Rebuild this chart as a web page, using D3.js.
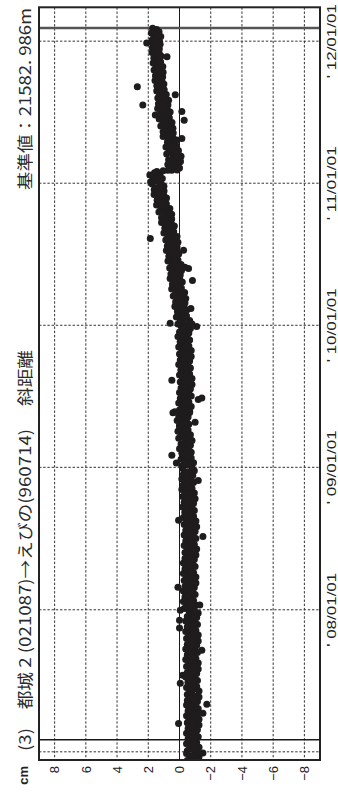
<!DOCTYPE html>
<html>
<head>
<meta charset="utf-8">
<script src="https://cdn.jsdelivr.net/npm/d3@7/dist/d3.min.js"></script>
<style>
  html, body { margin: 0; padding: 0; background: #fff; }
  svg { display: block; }
</style>
</head>
<body>
<svg id="chart" width="338" height="792"></svg>
<script>
// Slope-distance baseline change (cm) for 都城２ → えびの, drawn with time running up the page.

// Tick values and labels
const valueTicks = [8, 6, 4, 2, 0, -2, -4, -6, -8];
const yearTicks = ["2007-01-01", "2008-01-01", "2009-01-01", "2010-01-01", "2011-01-01", "2012-01-01"];
const dateLabelDates = ["2008-01-01", "2009-01-01", "2010-01-01", "2011-01-01", "2012-01-01"];
const dateLabels = ["' 08/01/01", "' 09/01/01", "' 10/01/01", "' 11/01/01", "' 12/01/01"];
const periodMarks = ["2007-02-01", "2012-02-04"];

// Observations every 3 days from each series start date (cm)
const seriesStarts = ["2006-12-07", "2007-01-01", "2008-01-01", "2009-01-01", "2010-01-01", "2011-01-01", "2012-01-01"];
const vals2006 = [-1.15, -0.5, -0.85, -0.65, -1.25, -0.8, -1.0, -0.45, -1.1];
const vals2007 = [
  -1.15, -0.5, -0.85, -0.65, -1.25, -0.8, -1.0, -0.45, -1.1, -0.75, -0.9, -0.55,
  -0.6, -1.2, -0.75, -1.05, -0.45, -0.9, -0.7, -1.15, -0.55, -0.95, -0.8, -1.25,
  -1.1, -0.5, -0.85, -0.6, -1.25, -0.75, -1.0, -0.45, -1.15, -0.7, -0.9, -0.55,
  -0.6, -1.2, -0.7, -1.05, -0.45, -0.95, -0.7, -1.15, -0.5, -0.95, -0.8, -1.25,
  -1.15, -0.5, -0.8, -0.65, -1.25, -0.8, -1.0, -0.45, -1.1, -0.75, -0.9, -0.55,
  -0.55, -1.15, -0.7, -1.0, -0.4, -0.85, -0.65, -1.1, -0.5, -0.9, -0.75, -1.2,
  -1.1, -0.45, -0.8, -0.6, -1.2, -0.75, -0.95, -0.4, -1.05, -0.7, -0.85, -0.5,
  -0.55, -1.15, -0.7, -1.0, -0.4, -0.85, -0.65, -1.1, -0.5, -0.9, -0.75, -1.2,
  -1.1, -0.45, -0.8, -0.6, -1.2, -0.75, -0.95, -0.4, -1.05, -0.7, -0.85, -0.5,
  -0.55, -1.15, -0.7, -1.0, -0.4, -0.85, -0.65, -1.1, -0.5, -0.9, -0.75, -1.2,
  -0.95, -0.6
];
const vals2008 = [
  -0.95, -0.3, -0.65, -0.45, -1.05, -0.6, -0.8, -0.25, -0.9, -0.55, -0.7, -0.35,
  -0.4, -1.0, -0.55, -0.85, -0.25, -0.7, -0.5, -0.95, -0.35, -0.75, -0.6, -1.05,
  -0.95, -0.3, -0.65, -0.45, -1.05, -0.6, -0.8, -0.25, -0.9, -0.55, -0.7, -0.35,
  -0.4, -1.0, -0.55, -0.85, -0.25, -0.7, -0.5, -0.95, -0.35, -0.75, -0.6, -1.05,
  -1.0, -0.35, -0.7, -0.5, -1.1, -0.65, -0.85, -0.3, -0.95, -0.6, -0.75, -0.4,
  -0.45, -1.05, -0.6, -0.9, -0.3, -0.75, -0.55, -1.0, -0.4, -0.8, -0.65, -1.1,
  -0.95, -0.3, -0.65, -0.45, -1.05, -0.6, -0.8, -0.25, -0.9, -0.55, -0.7, -0.35,
  -0.35, -0.95, -0.5, -0.8, -0.2, -0.65, -0.45, -0.9, -0.3, -0.7, -0.55, -1.0,
  -0.85, -0.2, -0.55, -0.35, -0.95, -0.5, -0.7, -0.15, -0.8, -0.45, -0.6, -0.25,
  -0.3, -0.9, -0.45, -0.75, -0.15, -0.6, -0.4, -0.85, -0.25, -0.65, -0.5, -0.95,
  -0.8, -0.2
];
const vals2009 = [
  -0.8, -0.15, -0.5, -0.3, -0.9, -0.45, -0.65, -0.1, -0.75, -0.4, -0.55, -0.2,
  -0.15, -0.75, -0.3, -0.6, 0.0, -0.45, -0.25, -0.7, -0.1, -0.5, -0.35, -0.8,
  -0.6, 0.05, -0.3, -0.1, -0.7, -0.25, -0.45, 0.1, -0.55, -0.2, -0.35, 0.0,
  0.0, -0.6, -0.15, -0.45, 0.15, -0.3, -0.1, -0.55, 0.05, -0.35, -0.2, -0.65,
  -0.65, 0.0, -0.35, -0.15, -0.75, -0.3, -0.5, 0.05, -0.6, -0.25, -0.4, -0.05,
  -0.15, -0.75, -0.3, -0.6, 0.0, -0.45, -0.25, -0.7, -0.1, -0.5, -0.35, -0.8,
  -0.7, -0.05, -0.4, -0.2, -0.8, -0.35, -0.55, 0.0, -0.65, -0.3, -0.45, -0.1,
  -0.1, -0.7, -0.25, -0.55, 0.05, -0.4, -0.2, -0.65, -0.05, -0.45, -0.3, -0.75,
  -0.65, 0.0, -0.35, -0.15, -0.75, -0.3, -0.5, 0.05, -0.6, -0.25, -0.4, -0.05,
  -0.05, -0.65, -0.2, -0.5, 0.1, -0.35, -0.15, -0.6, 0.0, -0.4, -0.25, -0.7,
  -0.55, -0.1
];
const vals2010 = [
  -0.55, 0.1, -0.25, -0.05, -0.65, -0.2, -0.35, 0.2, -0.45, -0.1, -0.25, 0.1,
  0.13, -0.47, -0.02, -0.3, 0.3, -0.15, 0.05, -0.35, 0.25, -0.05, 0.05, -0.4,
  -0.25, 0.4, 0.05, 0.25, -0.33, 0.12, -0.05, 0.5, -0.12, 0.23, 0.1, 0.45,
  0.42, -0.18, 0.28, -0.02, 0.6, 0.17, 0.38, -0.05, 0.55, 0.15, 0.32, -0.13,
  -0.02, 0.63, 0.29, 0.5, -0.1, 0.36, 0.17, 0.74, 0.1, 0.46, 0.32, 0.68,
  0.65, 0.05, 0.52, 0.22, 0.84, 0.4, 0.6, 0.16, 0.78, 0.38, 0.54, 0.1,
  0.22, 0.88, 0.54, 0.75, 0.16, 0.62, 0.44, 1.0, 0.37, 0.73, 0.6, 0.94,
  0.91, 0.33, 0.8, 0.52, 1.15, 0.73, 0.95, 0.5, 1.15, 0.77, 0.94, 0.5,
  0.65, 1.32, 0.98, 1.2, 0.62, 1.08, 0.9, 1.47, 0.84, 1.2, 1.07, 1.43,
  1.41, 0.83, 1.3, 1.0, 1.63, 1.2, 1.42, 0.99, 1.62, 1.24, 1.41, 1.0,
  1.1, 1.75
];
const vals2011 = [
  1.2, 1.85, 1.5, 1.7, 1.1, 1.55, 1.35, 1.9, 1.25, 1.6, 1.45, 0.5,
  0.6, 0.0, 0.45, 0.15, 0.75, 0.3, 0.5, -0.05, 0.7, 0.25, 0.4, -0.1,
  0.17, 0.82, 0.47, 0.67, 0.07, 0.52, 0.32, 0.87, 0.22, 0.57, 0.42, 0.77,
  0.75, 0.18, 0.7, 0.42, 1.05, 0.6, 0.82, 0.4, 1.05, 0.68, 0.85, 0.42,
  0.53, 1.2, 0.85, 1.07, 0.48, 0.94, 0.75, 1.3, 0.65, 1.01, 0.87, 1.22,
  1.18, 0.6, 1.06, 0.78, 1.4, 0.96, 1.18, 0.74, 1.35, 0.98, 1.16, 0.7,
  0.9, 1.39, 1.14, 1.29, 0.85, 1.2, 1.05, 1.46, 0.98, 1.28, 1.17, 1.44,
  1.44, 1.0, 1.34, 1.12, 1.57, 1.24, 1.4, 1.08, 1.54, 1.25, 1.38, 1.05,
  1.14, 1.63, 1.37, 1.52, 1.07, 1.42, 1.28, 1.69, 1.21, 1.49, 1.38, 1.64,
  1.62, 1.18, 1.52, 1.3, 1.76, 1.42, 1.6, 1.29, 1.74, 1.45, 1.58, 1.24,
  1.33, 1.8
];
const vals2012 = [1.28, 1.76, 1.5, 1.65, 1.2, 1.54, 1.39, 1.8, 1.31, 1.58, 1.46, 1.72];

// Individual readings off the main band (dates and values)
const extraDates = [
  "2006-12-29", "2007-03-15", "2007-04-10", "2007-05-03", "2007-06-26", "2007-07-17",
  "2007-09-19", "2007-11-15", "2007-12-05", "2007-12-31", "2008-01-13", "2008-02-28",
  "2008-07-07", "2008-08-18", "2008-11-28", "2009-01-12", "2009-02-01", "2009-04-27",
  "2009-05-21", "2009-05-24", "2009-06-24", "2009-06-28", "2009-08-13", "2009-12-29",
  "2010-01-04", "2010-01-06", "2010-02-13", "2010-04-26", "2010-05-27", "2010-05-30",
  "2010-07-13", "2010-08-12", "2011-02-02", "2011-02-03", "2011-02-04", "2011-02-25",
  "2011-03-23", "2011-04-26", "2011-06-12", "2011-06-25", "2011-07-04", "2011-07-21",
  "2011-08-16", "2011-09-06", "2011-11-22", "2011-12-27"
];
const extraVals = [
  -1.5, 0.06, -1.5, -1.75, -0.05, -0.2,
  -1.43, 0.0, 0.0, -0.05, -1.3, 0.1,
  -1.5, 0.06, -1.2, 0.2, 0.49, -1.0,
  0.42, 0.3, -1.2, -1.43, 0.49, -1.1,
  -0.8, 0.6, -0.73, -0.83, -0.58, -0.35,
  -0.26, 1.87, 1.05, 0.75, 0.15, -0.05,
  0.1, -0.15, -0.3, 1.55, -0.15, 2.35,
  0.27, 2.7, 0.8, 2.1
];

const titleText = "(3)　都城 2 (021087)→えびの(960714)　 斜距離";
const refText = "基準値：21582. 986m";
const unitText = "cm";

const parse = d3.utcParse("%Y-%m-%d");
const seriesVals = [vals2006, vals2007, vals2008, vals2009, vals2010, vals2011, vals2012];
const points = [];
seriesVals.forEach((vals, k) => {
  const start = parse(seriesStarts[k]);
  vals.forEach((v, i) => points.push({ date: d3.utcDay.offset(start, i * 3), value: v }));
});
extraDates.forEach((d, i) => points.push({ date: parse(d), value: extraVals[i] }));

// Plot frame (time runs bottom → top, values run left → right from +9 to -9)
const plot = { left: 39, right: 320, top: 7.3, bottom: 760 };
const x = d3.scaleLinear().domain([9, -9]).range([plot.left, plot.right]);
const y = d3.scaleUtc().domain([parse("2006-12-11"), parse("2012-03-28")]).range([plot.bottom, plot.top]);

const svg = d3.select("#chart");

svg.append("defs").append("clipPath").attr("id", "plot-clip")
  .append("rect")
  .attr("x", plot.left).attr("y", plot.top)
  .attr("width", plot.right - plot.left).attr("height", plot.bottom - plot.top);

const grid = svg.append("g");

// value grid
grid.selectAll("line.vgrid").data(valueTicks).join("line")
  .attr("class", "vgrid")
  .attr("x1", d => x(d)).attr("x2", d => x(d))
  .attr("y1", plot.top).attr("y2", plot.bottom)
  .attr("stroke", d => d === 0 ? "#1a1a1a" : "#333")
  .attr("stroke-width", 1)
  .attr("stroke-dasharray", d => d === 0 ? null : "2.4,1.8");

// year grid
grid.selectAll("line.tgrid").data(yearTicks.map(parse)).join("line")
  .attr("class", "tgrid")
  .attr("x1", plot.left).attr("x2", plot.right)
  .attr("y1", d => y(d)).attr("y2", d => y(d))
  .attr("stroke", "#333").attr("stroke-width", 1)
  .attr("stroke-dasharray", "2.4,1.8");

// period start / end markers
grid.selectAll("line.mark").data(periodMarks.map(parse)).join("line")
  .attr("class", "mark")
  .attr("x1", plot.left).attr("x2", plot.right)
  .attr("y1", d => y(d)).attr("y2", d => y(d))
  .attr("stroke", (d, i) => i === 0 ? "#1a1a1a" : "#555")
  .attr("stroke-width", (d, i) => i === 0 ? 1.3 : 2.4);

// observations
svg.append("g").attr("clip-path", "url(#plot-clip)")
  .selectAll("circle").data(points).join("circle")
  .attr("cx", d => x(d.value))
  .attr("cy", d => y(d.date))
  .attr("r", 3.5)
  .attr("fill", "#1f1c1d");

// frame
svg.append("rect")
  .attr("x", plot.left).attr("y", plot.top)
  .attr("width", plot.right - plot.left).attr("height", plot.bottom - plot.top)
  .attr("fill", "none").attr("stroke", "#222").attr("stroke-width", 2);

const fontLatin = "'Liberation Sans', Arial, sans-serif";
const fontJP = "'Noto Sans CJK JP', sans-serif";

// value tick labels (rotated, under the frame)
svg.append("g").selectAll("text").data(valueTicks).join("text")
  .attr("transform", d => `translate(${x(d)},766) rotate(-90)`)
  .attr("text-anchor", "end")
  .attr("dy", "0.36em")
  .attr("font-family", fontLatin)
  .attr("font-size", 13)
  .attr("fill", "#222")
  .text(d => d < 0 ? "−" + Math.abs(d) : String(d));

svg.append("text")
  .attr("transform", "translate(23,766) rotate(-90)")
  .attr("text-anchor", "end")
  .attr("dy", "0.36em")
  .attr("font-family", fontLatin)
  .attr("font-weight", "bold")
  .attr("font-size", 13)
  .attr("fill", "#222")
  .text(unitText);

// date labels on the right
svg.append("g").selectAll("text").data(dateLabelDates.map(parse)).join("text")
  .attr("transform", d => `translate(335.5,${y(d)}) rotate(-90)`)
  .attr("text-anchor", "middle")
  .attr("font-family", fontLatin)
  .attr("font-size", 13.5)
  .attr("fill", "#222")
  .attr("textLength", 74)
  .attr("lengthAdjust", "spacingAndGlyphs")
  .text((d, i) => dateLabels[i]);

// title and reference length along the left side
svg.append("text")
  .attr("transform", "translate(31,751) rotate(-90)")
  .attr("text-anchor", "start")
  .attr("font-family", fontJP)
  .attr("font-size", 16)
  .attr("fill", "#2a2a2a")
  .attr("textLength", 401)
  .attr("lengthAdjust", "spacingAndGlyphs")
  .text(titleText);

svg.append("text")
  .attr("transform", "translate(31,190) rotate(-90)")
  .attr("text-anchor", "start")
  .attr("font-family", fontJP)
  .attr("font-size", 16)
  .attr("fill", "#2a2a2a")
  .attr("textLength", 182)
  .attr("lengthAdjust", "spacingAndGlyphs")
  .text(refText);
</script>
</body>
</html>
